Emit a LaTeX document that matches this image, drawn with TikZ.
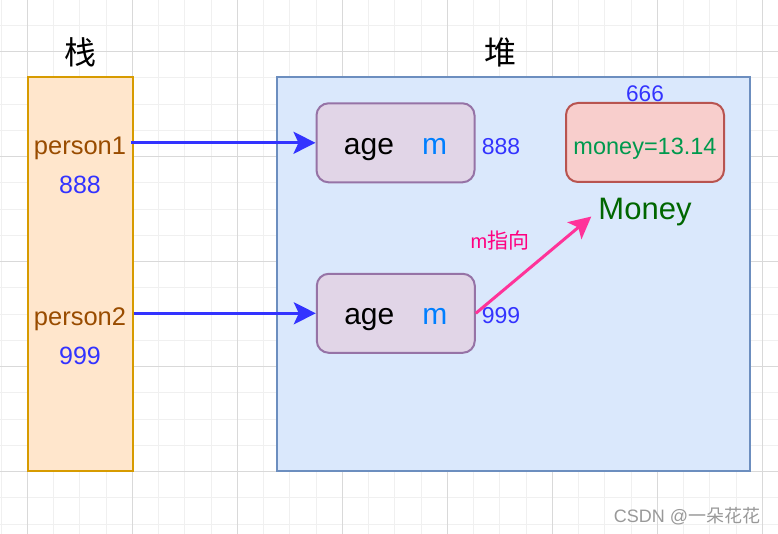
\documentclass[tikz,border=0pt]{standalone}
\usepackage{fontspec}
\setmainfont{Liberation Sans}
\newfontfamily\cjk{Noto Sans CJK SC}
\usetikzlibrary{arrows.meta}
\definecolor{cstk}{HTML}{FFE6CC}
\definecolor{cstkd}{HTML}{D79B00}
\definecolor{cheap}{HTML}{DAE8FC}
\definecolor{cheapd}{HTML}{6C8EBF}
\definecolor{cobj}{HTML}{E1D5E7}
\definecolor{cobjd}{HTML}{9673A6}
\definecolor{cmon}{HTML}{F8CECC}
\definecolor{cmond}{HTML}{B85450}
\definecolor{cref}{HTML}{994C00}
\definecolor{caddr}{HTML}{3333FF}
\definecolor{cfld}{HTML}{007FFF}
\definecolor{cval}{HTML}{00994D}
\definecolor{ccls}{HTML}{006600}
\definecolor{cptr}{HTML}{FF3399}
\definecolor{cptrt}{HTML}{FF0080}
\definecolor{cgmin}{HTML}{F0F0F0}
\definecolor{cgmaj}{HTML}{D9D9D9}
\newcommand\fsz[1]{\fontsize{#1}{#1}\selectfont}

\begin{document}
\begin{tikzpicture}[
  x=1pt,y=-1pt,
  area/.style={draw,line width=2pt,inner sep=0pt},
  box/.style={draw,rounded corners=12pt,line width=2pt,inner sep=0pt,
    minimum width=158pt,minimum height=79pt,text height=23pt,text depth=0pt},
  lbl/.style={inner sep=1pt,anchor=base},
  arr/.style={-{Stealth[length=22pt,width=22pt,inset=5pt]},line width=3pt,draw=caddr,fill=caddr},
  ptrarr/.style={-{Stealth[length=22pt,width=22pt,inset=5pt]},line width=3pt,draw=cptr,fill=cptr}
]
\useasboundingbox[fill=white] (0,0) rectangle (778,534);
\foreach \i in {-1,...,29}
  \draw[cgmin,line width=1pt] ({27.3+26.25*\i},0) -- ({27.3+26.25*\i},534);
\foreach \j in {-1,...,20}
  \draw[cgmin,line width=1pt] (0,{51.7+26.25*\j}) -- (778,{51.7+26.25*\j});
\foreach \i in {0,...,7}
  \draw[cgmaj,line width=1pt] ({27.3+105*\i},0) -- ({27.3+105*\i},534);
\foreach \j in {0,...,4}
  \draw[cgmaj,line width=1pt] (0,{51.7+105*\j}) -- (778,{51.7+105*\j});

\node[font=\cjk\fsz{32}] (stktitle) at (80,52) {栈};
\node[font=\cjk\fsz{32}] (heaptitle) at (500,52) {堆};
\node[area,fill=cstk,draw=cstkd,minimum width=105.5pt,minimum height=394pt] (stack) at (80.3,274) {};
\node[area,fill=cheap,draw=cheapd,minimum width=473pt,minimum height=394pt] (heap) at (513.5,274) {};

\node[lbl,text=cref,font=\fsz{25.5}] (p1) at (80,155) {person1};
\node[lbl,text=caddr,font=\fsz{25}] (p1addr) at (80,194) {888};
\node[lbl,text=cref,font=\fsz{25.5}] (p2) at (80,325) {person2};
\node[lbl,text=caddr,font=\fsz{25}] (p2addr) at (80,364) {999};

\node[box,fill=cobj,draw=cobjd,font=\fsz{30}] (age1) at (395.5,142.8)
  {age\hspace{28pt}\textcolor{cfld}{m}};
\node[box,fill=cobj,draw=cobjd,font=\fsz{30}] (age2) at (395.8,313.3)
  {age\hspace{28pt}\textcolor{cfld}{m}};
\node[lbl,text=caddr,font=\fsz{23}] (age1addr) at (501,154.3) {888};
\node[lbl,text=caddr,font=\fsz{23}] (age2addr) at (501,323.3) {999};

\node[box,fill=cmon,draw=cmond,text=cval,font=\fsz{23.5},text height=25pt] (mbox) at (645,142.5)
  {money=13.14};
\node[lbl,text=caddr,font=\fsz{22.6}] (maddr) at (645,101.7) {666};
\node[lbl,text=ccls,font=\fsz{31}] (money) at (645,220) {Money};
\node[lbl,text=cptrt,font=\fsz{20}] (ptrlbl) at (500,248.3) {m{\cjk\fsz{21}指向}};

\node[lbl,text=black!40,font=\fsz{18}] (mark) at (687,522) {CSDN @{\cjk 一朵花花}};

\draw[arr] ([xshift=-3pt]stack.east |- age1.west) -- (age1.west);
\draw[arr] (stack.east |- age2.west) -- (age2.west);
\draw[ptrarr] (age2.east) -- ([xshift=-6pt,yshift=-4pt]money.west);
\end{tikzpicture}
\end{document}
